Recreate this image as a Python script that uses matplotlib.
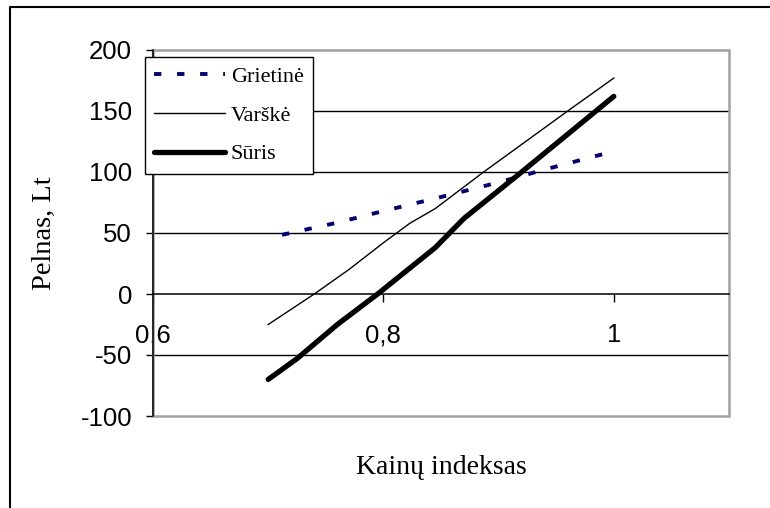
import matplotlib
matplotlib.use("Agg")
import matplotlib.pyplot as plt
from matplotlib.lines import Line2D
from matplotlib.patches import Rectangle

# ---- data ----
grietine_x = [0.712, 0.76, 0.80, 0.85, 0.90, 0.94, 1.00]
grietine_y = [48.5, 58.5, 68.0, 79.5, 91.5, 102.0, 117.0]

varske_x = [0.70, 0.74, 0.77, 0.80, 0.823, 0.845, 0.887, 0.96, 1.00]
varske_y = [-25, 0, 20, 42, 58, 70, 100, 150, 177]

suris_x = [0.70, 0.725, 0.76, 0.795, 0.845, 0.87, 0.92, 1.00]
suris_y = [-70, -53, -25, 0, 38, 62, 100, 162]

series_names = ["Grietinė", "Varškė", "Sūris"]
x_ticks = [0.6, 0.8, 1.0]
x_tick_labels = ["0,6", "0,8", "1"]
y_ticks = [-100, -50, 0, 50, 100, 150, 200]
x_label = "Kainų indeksas"
y_label = "Pelnas, Lt"

plt.rcParams['lines.scale_dashes'] = False

W, H = 770, 508
fig = plt.figure(figsize=(W / 100, H / 100), dpi=100)
fig.patch.set_facecolor("white")

ax = fig.add_axes([153 / W, 1 - 416 / H, (729 - 153) / W, (416 - 50) / H])
ax.set_xlim(0.6, 1.1)
ax.set_ylim(-100, 200)

# gridlines
for yv in y_ticks:
    if yv in (-100, 0, 200):
        continue
    ax.axhline(yv, color="black", lw=1.0, zorder=1)

# plot-area border (gray)
ax.add_patch(Rectangle((0, 0), 1, 1, transform=ax.transAxes, fill=False,
                       edgecolor="#a0a0a0", lw=1.8, zorder=2, clip_on=False))

for s in ["top", "right"]:
    ax.spines[s].set_visible(False)
ax.spines["left"].set_color("black")
ax.spines["left"].set_linewidth(1.1)
ax.spines["left"].set_zorder(3)
ax.spines["bottom"].set_position(("data", 0))
ax.spines["bottom"].set_color("black")
ax.spines["bottom"].set_linewidth(1.1)

ax.set_xticks(x_ticks)
ax.set_xticklabels(x_tick_labels)
ax.set_yticks(y_ticks)
ax.set_yticklabels([str(v) for v in y_ticks])

sans = ["Liberation Sans", "DejaVu Sans"]
serif = ["Liberation Serif", "DejaVu Serif"]
ax.tick_params(axis="x", direction="out", length=6, width=1, pad=15,
               labelsize=18.5, labelfontfamily=sans)
ax.tick_params(axis="y", direction="out", length=5, width=1, pad=10,
               labelsize=18.5, labelfontfamily=sans)

# series
l1, = ax.plot(grietine_x, grietine_y, color="#000080", lw=2.8,
              linestyle=(0, (5.3, 11.3)), dash_capstyle="butt", zorder=4)
l2, = ax.plot(varske_x, varske_y, color="black", lw=1.0, zorder=4)
l3, = ax.plot(suris_x, suris_y, color="black", lw=3.8,
              solid_capstyle="round", solid_joinstyle="round", zorder=5)

leg = ax.legend([l1, l2, l3], series_names, loc="upper left",
                bbox_to_anchor=(145 / W, 1 - 57 / H), bbox_transform=fig.transFigure,
                borderaxespad=0, fancybox=False, shadow=False, framealpha=1,
                edgecolor="black", prop={"family": serif, "size": 16},
                handlelength=3.2, handletextpad=0.25, borderpad=0.42,
                labelspacing=0.82)
leg.get_frame().set_linewidth(1.0)
leg.set_zorder(10)

fig.text(441 / W, 1 - 468 / H, x_label, ha="center", va="center",
         fontsize=20, family=serif)
fig.text(44 / W, 1 - 233 / H, y_label, ha="center", va="center",
         rotation=90, fontsize=20.5, family=serif)

# outer chart frame (left and top visible)
fig.add_artist(Line2D([10 / W, 10 / W, 1.0], [0.0, 1 - 7 / H, 1 - 7 / H],
                      transform=fig.transFigure, color="black", lw=1.5))

fig.savefig("out.png", dpi=100, facecolor="white")
